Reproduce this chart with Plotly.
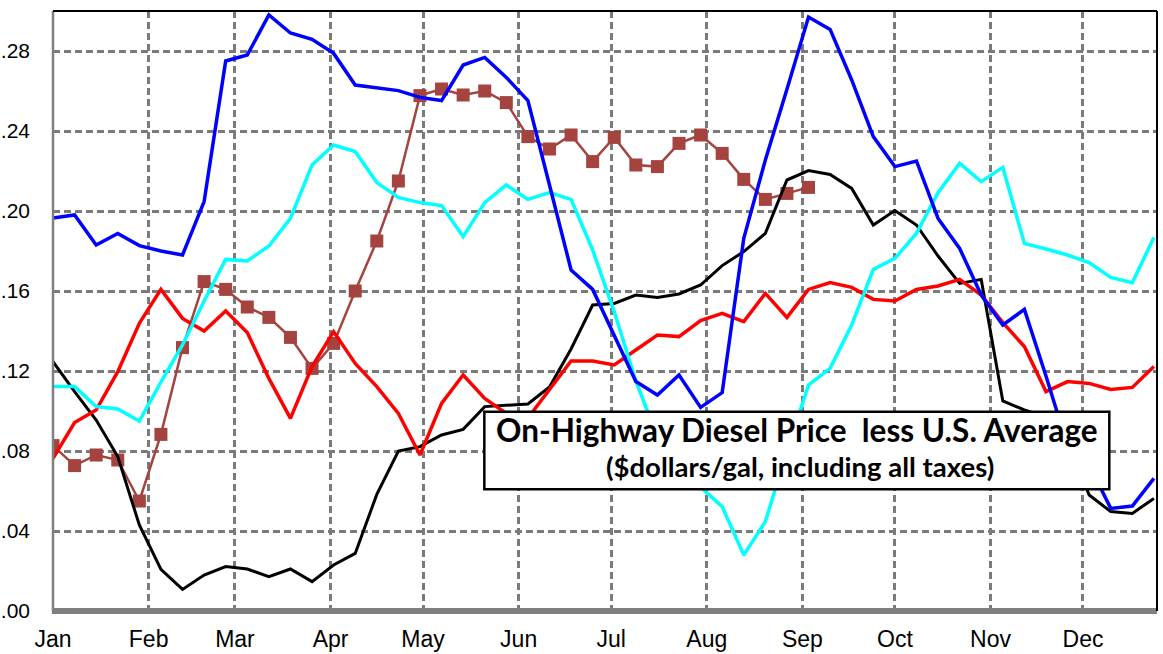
import pandas as pd
import plotly.graph_objects as go

# Weekly observations (Mondays)
weeks = pd.date_range("2018-01-01", periods=52, freq="7D")

month_ticks = pd.date_range("2018-01-01", periods=12, freq="MS")
month_labels = ["Jan", "Feb", "Mar", "Apr", "May", "Jun",
                "Jul", "Aug", "Sep", "Oct", "Nov", "Dec"]

y_ticks = [0.00, 0.04, 0.08, 0.12, 0.16, 0.20, 0.24, 0.28]
y_labels = [".00", ".04", ".08", ".12", ".16", ".20", ".24", ".28"]

# Price differential vs. U.S. average, $/gal
blue_vals = [0.1965, 0.198, 0.183, 0.1888, 0.1827, 0.180, 0.178, 0.2047, 0.275, 0.278,
             0.298, 0.289, 0.2858, 0.2788, 0.263, 0.2618, 0.2602, 0.2568, 0.2552, 0.273,
             0.2768, 0.2668, 0.2552, 0.213, 0.1705, 0.1608, 0.138, 0.1147, 0.108, 0.118,
             0.1018, 0.1092, 0.1863, 0.2255, 0.2609, 0.297, 0.2908, 0.2655, 0.2372, 0.2222,
             0.225, 0.1963, 0.1813, 0.158, 0.143, 0.1508, 0.1175, 0.0825, 0.073, 0.0513,
             0.0525, 0.0663]

cyan_vals = [0.1122, 0.1122, 0.1022, 0.101, 0.095, 0.1145, 0.133, 0.155, 0.1758, 0.175,
             0.1825, 0.1963, 0.223, 0.233, 0.2297, 0.2142, 0.2068, 0.2042, 0.2027, 0.1872,
             0.2042, 0.213, 0.2058, 0.2092, 0.2058, 0.1805, 0.1496, 0.115, 0.087, 0.074,
             0.062, 0.0522, 0.028, 0.0447, 0.080, 0.113, 0.1213, 0.143, 0.1708, 0.1763,
             0.1888, 0.2092, 0.2238, 0.2147, 0.2218, 0.1838, 0.181, 0.178, 0.1742, 0.1668,
             0.1642, 0.1868]

red_vals = [0.0763, 0.0942, 0.1005, 0.1197, 0.1438, 0.1608, 0.1463, 0.14, 0.15, 0.1392,
            0.1163, 0.0963, 0.1222, 0.1397, 0.1238, 0.1122, 0.0988, 0.078, 0.1038, 0.118,
            0.1063, 0.0988, 0.0965, 0.1105, 0.125, 0.125, 0.123, 0.1305, 0.138, 0.1372,
            0.1452, 0.1488, 0.1447, 0.1588, 0.1468, 0.1608, 0.1642, 0.1618, 0.1558, 0.155,
            0.1608, 0.1625, 0.1658, 0.158, 0.1442, 0.1322, 0.1097, 0.1147, 0.1138, 0.1108,
            0.1118, 0.1222]

black_vals = [0.1247, 0.1097, 0.0955, 0.0772, 0.043, 0.0208, 0.0108, 0.018, 0.0222, 0.021,
              0.0172, 0.021, 0.0147, 0.023, 0.0288, 0.0583, 0.08, 0.0822, 0.088, 0.0908,
              0.1022, 0.103, 0.1035, 0.112, 0.131, 0.153, 0.1538, 0.158, 0.1568, 0.1585,
              0.163, 0.1727, 0.1797, 0.1888, 0.2155, 0.2202, 0.2183, 0.2113, 0.193, 0.2002,
              0.193, 0.1775, 0.1638, 0.1658, 0.105, 0.1005, 0.097, 0.085, 0.058, 0.0497,
              0.0488, 0.0563]

# Current year, through early September
brown_vals = [0.0827, 0.0727, 0.078, 0.0755, 0.055, 0.0883, 0.1317, 0.1647, 0.1608, 0.152,
              0.1468, 0.1368, 0.1213, 0.1338, 0.16, 0.185, 0.215, 0.2577, 0.261, 0.258,
              0.26, 0.2542, 0.2372, 0.231, 0.238, 0.2247, 0.2368, 0.223, 0.2222, 0.2338,
              0.238, 0.2288, 0.2158, 0.2058, 0.2088, 0.2118]

fig = go.Figure()

fig.add_trace(go.Scatter(
    x=weeks[:len(brown_vals)], y=brown_vals, mode="lines+markers", name="Current",
    line=dict(color="#A5433F", width=2.5),
    marker=dict(symbol="square", size=13, color="#A5433F"),
))
for vals, color, width, name in [
    (black_vals, "#000000", 3, "Series 4"),
    (red_vals, "#FF0000", 3.5, "Series 3"),
    (cyan_vals, "#00FFFF", 3.5, "Series 2"),
    (blue_vals, "#0000FF", 3.5, "Series 1"),
]:
    fig.add_trace(go.Scatter(x=weeks, y=vals, mode="lines", name=name,
                             line=dict(color=color, width=width)))

grid = dict(showgrid=True, gridcolor="#7A7A7A", gridwidth=2.6, griddash="7px,4px",
            zeroline=False, showline=False, ticks="", automargin=False)

fig.update_layout(
    width=1163, height=654,
    margin=dict(l=53, r=6, t=11, b=43),
    paper_bgcolor="white", plot_bgcolor="white",
    showlegend=False,
    xaxis=dict(range=[pd.Timestamp("2018-01-01"), pd.Timestamp("2018-12-25")],
               tickvals=month_ticks, ticktext=month_labels,
               tickfont=dict(family="Liberation Sans", size=23, color="black"),
               ticklabelstandoff=12, **grid),
    yaxis=dict(range=[0, 0.30], tickvals=y_ticks, ticktext=y_labels,
               tickfont=dict(family="Liberation Sans", size=21, color="black"),
               ticklabelstandoff=22, **grid),
)

# Frame: gray axes on left/bottom, black border top/right
fig.add_shape(type="line", xref="paper", yref="paper", x0=0, x1=0, y0=0, y1=1,
              line=dict(color="#808080", width=2.5), layer="above")
fig.add_shape(type="line", xref="paper", yref="paper", x0=-0.001, x1=1, y0=0, y1=0,
              line=dict(color="#808080", width=6), layer="above")
fig.add_shape(type="line", xref="paper", yref="paper", x0=0, x1=1, y0=1, y1=1,
              line=dict(color="black", width=2), layer="above")
fig.add_shape(type="line", xref="paper", yref="paper", x0=1, x1=1, y0=0, y1=1,
              line=dict(color="black", width=2), layer="above")

# Title box
fig.add_shape(type="rect", xref="paper", yref="paper",
              x0=0.3907, x1=0.9568, y0=0.2028, y1=0.3322,
              line=dict(color="black", width=2.5), fillcolor="white", layer="above")
fig.add_annotation(xref="paper", yref="paper", x=0.6737, y=0.3012,
                   text="<b>On-Highway Diesel Price  less U.S. Average</b>",
                   showarrow=False, xanchor="center", yanchor="middle",
                   font=dict(family="Lato", size=31.5, color="black"))
fig.add_annotation(xref="paper", yref="paper", x=0.6765, y=0.2405,
                   text="<b>($dollars/gal, including all taxes)</b>",
                   showarrow=False, xanchor="center", yanchor="middle",
                   font=dict(family="Lato", size=27.5, color="black"))

fig.write_html("out.html")
